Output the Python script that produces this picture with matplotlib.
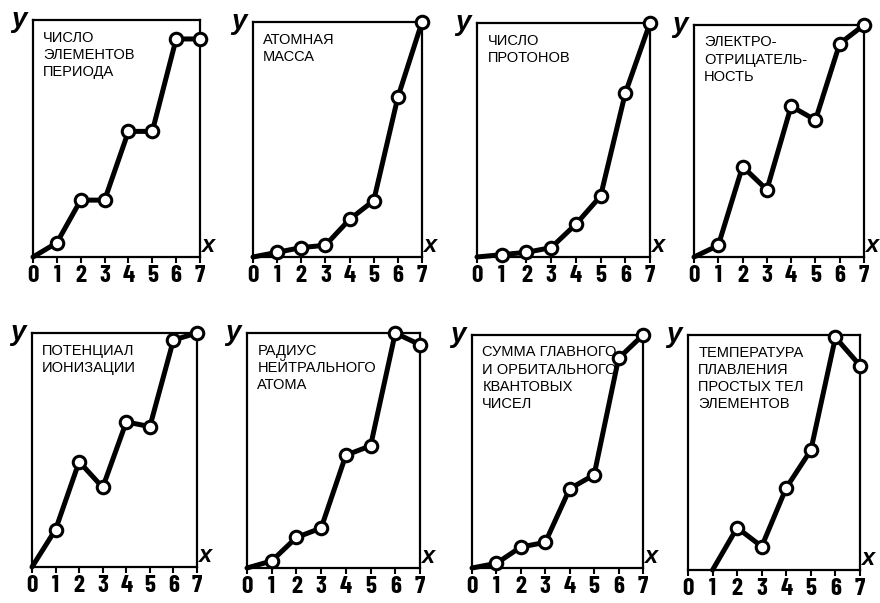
import numpy as np
import matplotlib
matplotlib.use("Agg")
import matplotlib.pyplot as plt

# periodic properties vs. position in period (normalised to the box height)
titles = ["ЧИСЛО\nЭЛЕМЕНТОВ\nПЕРИОДА",
          "АТОМНАЯ\nМАССА",
          "ЧИСЛО\nПРОТОНОВ",
          "ЭЛЕКТРО-\nОТРИЦАТЕЛЬ-\nНОСТЬ",
          "ПОТЕНЦИАЛ\nИОНИЗАЦИИ",
          "РАДИУС\nНЕЙТРАЛЬНОГО\nАТОМА",
          "СУММА ГЛАВНОГО\nИ ОРБИТАЛЬНОГО\nКВАНТОВЫХ\nЧИСЕЛ",
          "ТЕМПЕРАТУРА\nПЛАВЛЕНИЯ\nПРОСТЫХ ТЕЛ\nЭЛЕМЕНТОВ"]

x_full = [0, 1, 2, 3, 4, 5, 6, 7]
x_melt = [1, 2, 3, 4, 5, 6, 7]

y_elements = [0, 0.06, 0.24, 0.24, 0.53, 0.53, 0.92, 0.92]
y_mass = [0, 0.02, 0.04, 0.05, 0.16, 0.24, 0.68, 1.0]
y_protons = [0, 0.01, 0.02, 0.04, 0.14, 0.26, 0.70, 1.0]
y_electroneg = [0, 0.05, 0.39, 0.29, 0.65, 0.59, 0.92, 1.0]
y_ionization = [0, 0.16, 0.45, 0.34, 0.62, 0.60, 0.97, 1.0]
y_radius = [0, 0.03, 0.13, 0.17, 0.48, 0.52, 1.0, 0.95]
y_quantum = [0, 0.02, 0.09, 0.11, 0.34, 0.40, 0.90, 1.0]
y_melting = [0, 0.18, 0.10, 0.35, 0.51, 0.99, 0.87]

xs = [x_full] * 7 + [x_melt]
ys = [y_elements, y_mass, y_protons, y_electroneg,
      y_ionization, y_radius, y_quantum, y_melting]

# box of each panel in pixels: left, right, top, bottom
boxes = [(33, 200, 20, 257), (253, 422, 22, 257), (477, 650, 23, 257), (694, 864, 25, 257),
         (32, 197, 333, 567), (247, 420, 333, 568), (472, 643, 335, 568), (688, 860, 335, 570)]

W, H = 880, 603
fig = plt.figure(figsize=(W / 100, H / 100), dpi=100)
fig.patch.set_facecolor("white")

tick_font = dict(family=["Barlow Condensed", "Liberation Sans Narrow", "DejaVu Sans"],
                 weight="bold", size=18)

for i in range(8):
    l, r, t, b = boxes[i]
    ax = fig.add_axes([l / W, (H - b) / H, (r - l) / W, (b - t) / H])
    ax.plot(xs[i], ys[i], color="black", lw=3.6, solid_capstyle="round", clip_on=False, zorder=3)
    ax.plot(xs[i][1:], ys[i][1:], "o", ms=9, mfc="white", mec="black", mew=2.2,
            clip_on=False, zorder=4)
    ax.set_xlim(0, 7)
    ax.set_ylim(0, 1)
    ax.set_xticks(range(8))
    ax.set_xticklabels([str(k) for k in range(8)], fontdict=tick_font)
    ax.set_yticks([])
    ax.tick_params(axis="x", direction="out", length=4, width=1.5, pad=2)
    for s in ax.spines.values():
        s.set_linewidth(1.6)
    ax.text(0.06, 0.955, titles[i], transform=ax.transAxes, ha="left", va="top",
            fontsize=10.5, family="Liberation Sans", linespacing=1.3)
    ax.text(-0.04, 1.0, "y", transform=ax.transAxes, ha="right", va="center",
            fontsize=20, style="italic", weight="bold", family="Liberation Sans")
    ax.text(1.005, 0.0, "x", transform=ax.transAxes, ha="left", va="bottom",
            fontsize=17, style="italic", weight="bold", family="Liberation Sans")

fig.savefig("out.png", dpi=100, facecolor="white")
